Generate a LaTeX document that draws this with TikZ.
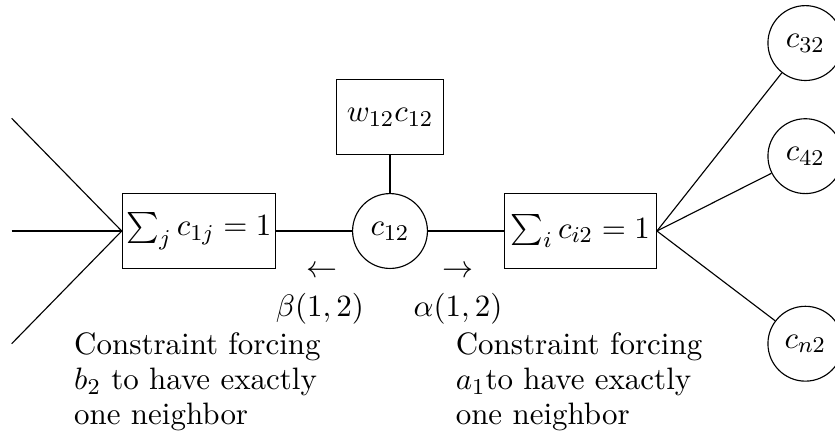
\documentclass[tikz,border=0pt]{standalone}
\usepackage{amsmath}
\usetikzlibrary{positioning}
\begin{document}
\begin{tikzpicture}[
    every node/.style={font=\fontsize{10.95}{12.4}\selectfont},
    fac/.style={rectangle, draw, minimum width=1.89cm, minimum height=0.94cm, inner sep=1.5pt},
    var/.style={circle, draw, minimum size=0.93cm, inner sep=1pt},
    note/.style={align=left, anchor=north west, inner sep=0pt},
    node distance=0.94cm
]
    \useasboundingbox (-4.845,-2.584) rectangle (5.528,2.870);
    \node[var] (c12) {$c_{12}$};
    \node[fac, left=of c12] (lcon) {$\sum_j c_{1j} = 1$};
    \node[fac, right=of c12] (rcon) {$\sum_i c_{i2} = 1$};
    \node[fac, minimum width=1.32cm, minimum height=0.93cm, above=0.47cm of c12] (cost) {$w_{12}c_{12}$};

    \node[var] (c32) at (5.16,2.335) {$c_{32}$};
    \node[var] (c42) at (5.16,0.93) {$c_{42}$};
    \node[var] (cn2) at (5.16,-1.40) {$c_{n2}$};

    \coordinate (l1) at (-4.7,1.4);
    \coordinate (l2) at (-4.7,0);
    \coordinate (l3) at (-4.7,-1.4);

    \node (larr) at (-0.845,-0.51) {$\leftarrow$};
    \node (rarr) at (0.845,-0.51) {$\rightarrow$};
    \node (beta) at (-0.87,-0.97) {$\beta(1,2)$};
    \node (alpha) at (0.845,-0.97) {$\alpha(1,2)$};

    \node[note] (lnote) at (-3.93,-1.255) {Constraint forcing\\$b_2$ to have exactly\\one neighbor};
    \node[note] (rnote) at (0.81,-1.255) {Constraint forcing\\$a_1$to have exactly\\one neighbor};

    \draw (lcon) -- (c12) -- (rcon);
    \draw (cost) -- (c12);
    \draw (l1) -- (lcon.west);
    \draw (l2) -- (lcon.west);
    \draw (l3) -- (lcon.west);
    \draw (rcon.east) -- (c32);
    \draw (rcon.east) -- (c42);
    \draw (rcon.east) -- (cn2);
\end{tikzpicture}
\end{document}
